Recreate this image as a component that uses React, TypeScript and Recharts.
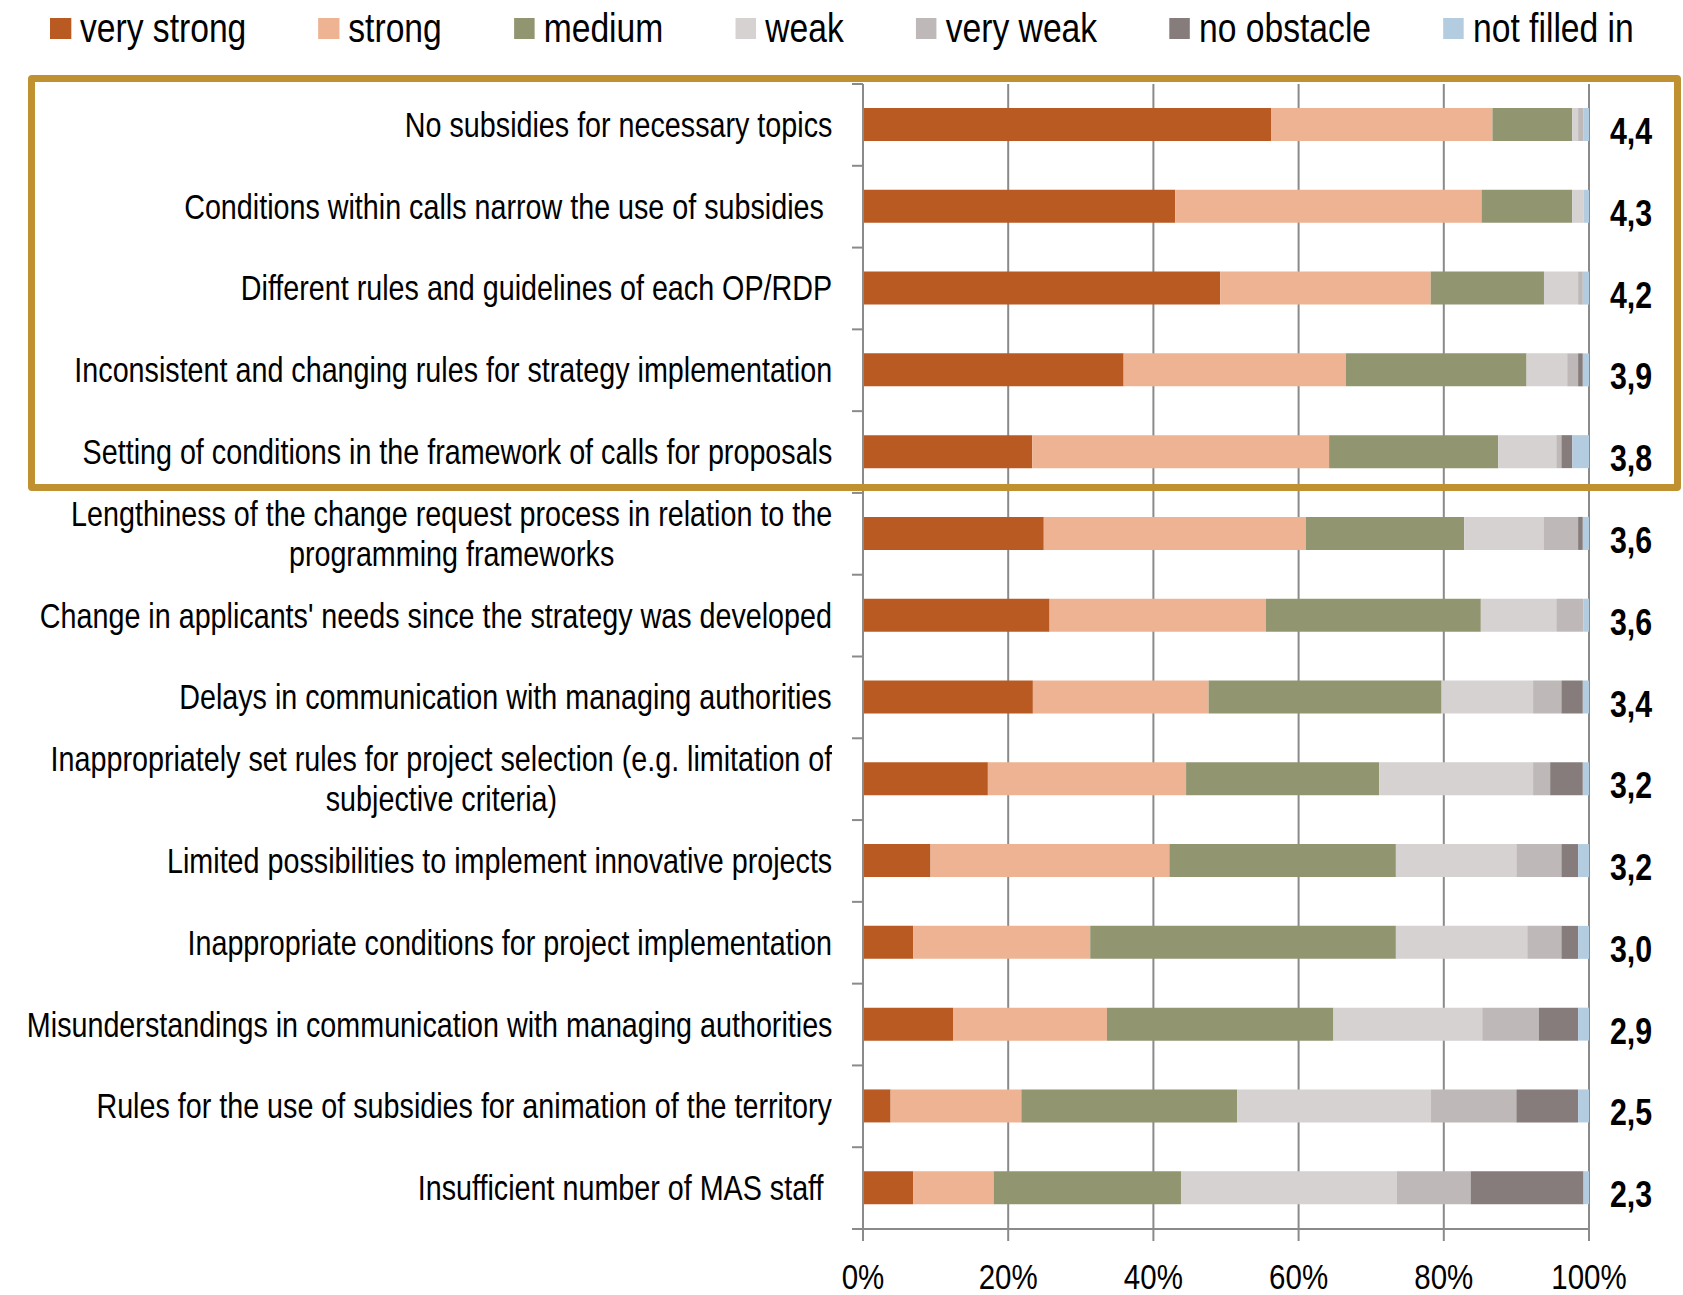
import { BarChart, Bar, XAxis, YAxis, CartesianGrid } from 'recharts';

const categories = [
  'No subsidies for necessary topics',
  'Conditions within calls narrow the use of subsidies ',
  'Different rules and guidelines of each OP/RDP',
  'Inconsistent and changing rules for strategy implementation',
  'Setting of conditions in the framework of calls for proposals',
  'Lengthiness of the change request process in relation to the\nprogramming frameworks',
  "Change in applicants' needs since the strategy was developed",
  'Delays in communication with managing authorities',
  'Inappropriately set rules for project selection (e.g. limitation of\nsubjective criteria)',
  'Limited possibilities to implement innovative projects',
  'Inappropriate conditions for project implementation',
  'Misunderstandings in communication with managing authorities',
  'Rules for the use of subsidies for animation of the territory',
  'Insufficient number of MAS staff ',
];

const averages = ['4,4', '4,3', '4,2', '3,9', '3,8', '3,6', '3,6', '3,4', '3,2', '3,2', '3,0', '2,9', '2,5', '2,3'];

// % of answers per category, top to bottom
const veryStrong = [56.2, 43.0, 49.2, 35.9, 23.3, 24.9, 25.7, 23.4, 17.2, 9.3, 6.9, 12.4, 3.8, 6.9];
const strong = [30.5, 42.2, 29.0, 30.6, 40.9, 36.1, 29.8, 24.2, 27.3, 32.9, 24.4, 21.2, 18.0, 11.1];
const medium = [11.0, 12.5, 15.6, 24.9, 23.3, 21.8, 29.6, 32.1, 26.6, 31.2, 42.1, 31.2, 29.7, 25.8];
const weak = [0.8, 1.55, 4.7, 5.6, 8.0, 11.0, 10.4, 12.6, 21.2, 16.6, 18.1, 20.5, 26.7, 29.7];
const veryWeak = [0.7, 0, 0.65, 1.5, 0.7, 4.7, 3.75, 3.9, 2.35, 6.2, 4.7, 7.8, 11.75, 10.2];
const noObstacle = [0, 0, 0, 0.65, 1.5, 0.65, 0, 2.95, 4.5, 2.3, 2.3, 5.4, 8.5, 15.55];
const notFilled = [0.8, 0.75, 0.85, 0.85, 2.3, 0.85, 0.75, 0.85, 0.85, 1.5, 1.5, 1.5, 1.5, 0.75];

const xTicks = [0, 0.2, 0.4, 0.6, 0.8, 1];

const series = [
  { key: 'vs', label: 'very strong', color: '#BA5A23', values: veryStrong },
  { key: 's', label: 'strong', color: '#EDB392', values: strong },
  { key: 'm', label: 'medium', color: '#929670', values: medium },
  { key: 'w', label: 'weak', color: '#D5D2D1', values: weak },
  { key: 'vw', label: 'very weak', color: '#BEB8B8', values: veryWeak },
  { key: 'no', label: 'no obstacle', color: '#857C7B', values: noObstacle },
  { key: 'nf', label: 'not filled in', color: '#B3CCE0', values: notFilled },
];

const data = categories.map((name, i) => {
  const row: Record<string, string | number> = { name, avg: averages[i] };
  series.forEach(s => { row[s.key] = s.values[i]; });
  return row;
});

// no narrow face installed: Arial-metric font squeezed horizontally
const FONT = "'Liberation Sans', Arial, sans-serif";
const NARROW = 0.82;
const W = 1683;
const H = 1295;
const TOP = 84;
const BOTTOM = 1229;
const LEFT_W = 863;
const RIGHT_W = 94;
const BAND = (BOTTOM - TOP) / categories.length;
const AXIS = '#8a8a8a';

function CategoryTick(props: any) {
  const { x, y, payload, index } = props;
  const text = String(payload.value);
  const boxW = 1100;
  return (
    <g>
      <line x1={x - 11} x2={x} y1={y - BAND / 2} y2={y - BAND / 2} stroke={AXIS} strokeWidth={2} />
      {index === categories.length - 1 && (
        <line x1={x - 11} x2={x} y1={y + BAND / 2} y2={y + BAND / 2} stroke={AXIS} strokeWidth={2} />
      )}
      <foreignObject x={x - 31 - boxW} y={y - 50} width={boxW} height={100}>
        <div style={{ width: boxW, height: 100, display: 'flex', alignItems: 'center', justifyContent: 'flex-end' }}>
          <div
            style={{
              textAlign: 'center',
              whiteSpace: 'pre',
              fontFamily: FONT,
              fontSize: 35,
              lineHeight: '40px',
              color: '#000',
              transform: `scaleX(${NARROW})`,
              transformOrigin: 'right center',
            }}
          >
            {text}
          </div>
        </div>
      </foreignObject>
    </g>
  );
}

function PercentTick(props: any) {
  const { x, y, payload } = props;
  return (
    <g transform={`translate(${x},${y})`}>
      <text transform={`scale(${NARROW},1)`} textAnchor="middle" dy="0.71em" fontFamily={FONT} fontSize={36} fill="#000">
        {`${Math.round(payload.value * 100)}%`}
      </text>
    </g>
  );
}

function AvgTick(props: any) {
  const { x, y, payload } = props;
  const row = data.find(d => d.name === payload.value);
  return (
    <g transform={`translate(${x + 42},${y + 6})`}>
      <text transform={`scale(${NARROW},1)`} textAnchor="middle" dominantBaseline="central" fontFamily={FONT} fontWeight="bold" fontSize={37} fill="#000">
        {row ? row.avg : ''}
      </text>
    </g>
  );
}

export default function App() {
  return (
    <div style={{ position: 'absolute', left: 0, top: 0, width: W, height: H, background: '#fff', overflow: 'hidden' }}>
      <div
        style={{
          position: 'absolute',
          left: 50,
          top: 5,
          display: 'flex',
          alignItems: 'center',
          fontFamily: FONT,
          fontSize: 41,
          color: '#000',
          whiteSpace: 'nowrap',
          transform: `scaleX(${NARROW})`,
          transformOrigin: 'left center',
        }}
      >
        {series.map(s => (
          <div key={s.key} style={{ display: 'flex', alignItems: 'center', marginRight: 72 / NARROW }}>
            <div style={{ width: 21 / NARROW, height: 21, background: s.color, marginRight: 9 / NARROW }} />
            <span>{s.label}</span>
          </div>
        ))}
      </div>
      <BarChart
        width={W}
        height={H}
        data={data}
        layout="vertical"
        stackOffset="expand"
        margin={{ top: TOP, right: 0, bottom: 0, left: 0 }}
        barSize={33}
      >
        <CartesianGrid horizontal={false} stroke={AXIS} strokeWidth={2} />
        <XAxis
          type="number"
          domain={[0, 1]}
          ticks={xTicks}
          height={H - BOTTOM}
          axisLine={{ stroke: AXIS, strokeWidth: 2 }}
          tickLine={{ stroke: AXIS, strokeWidth: 2 }}
          tickSize={12}
          tickMargin={22}
          tick={<PercentTick />}
          interval={0}
        />
        <YAxis
          yAxisId="left"
          type="category"
          dataKey="name"
          width={LEFT_W}
          axisLine={{ stroke: AXIS, strokeWidth: 2 }}
          tickLine={false}
          tickSize={0}
          tickMargin={0}
          tick={<CategoryTick />}
          interval={0}
        />
        <YAxis
          yAxisId="right"
          orientation="right"
          type="category"
          dataKey="name"
          width={RIGHT_W}
          axisLine={false}
          tickLine={false}
          tickSize={0}
          tickMargin={0}
          tick={<AvgTick />}
          interval={0}
        />
        {series.map(s => (
          <Bar key={s.key} yAxisId="left" dataKey={s.key} stackId="a" fill={s.color} isAnimationActive={false} />
        ))}
      </BarChart>
      <div
        style={{
          position: 'absolute',
          left: 28,
          top: 75,
          width: 1653,
          height: 416,
          border: '7px solid #BF9130',
          borderRadius: 4,
          boxSizing: 'border-box',
          pointerEvents: 'none',
        }}
      />
    </div>
  );
}
